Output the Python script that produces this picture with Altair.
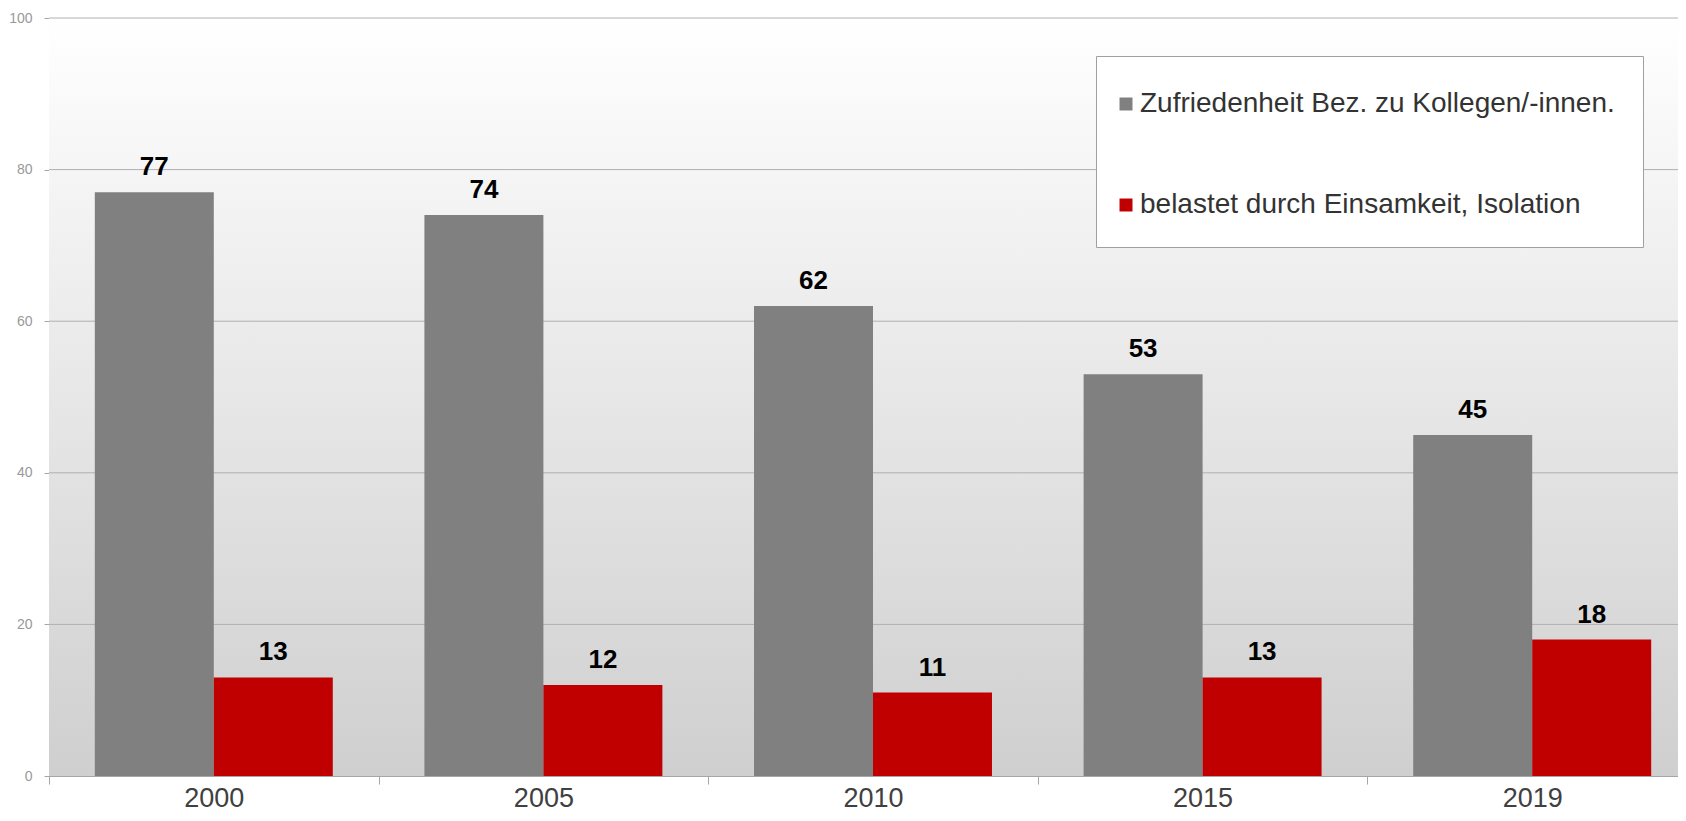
import altair as alt
import pandas as pd

years = ["2000", "2005", "2010", "2015", "2019"]
series_names = ["Zufriedenheit Bez. zu Kollegen/-innen.", "belastet durch Einsamkeit, Isolation"]
zufriedenheit = [77, 74, 62, 53, 45]
belastet = [13, 12, 11, 13, 18]
y_ticks = [0, 20, 40, 60, 80, 100]
colors = ["#808080", "#c00000"]

rows = []
for i, y in enumerate(years):
    rows.append({"year": y, "series": series_names[0], "value": zufriedenheit[i]})
    rows.append({"year": y, "series": series_names[1], "value": belastet[i]})
df = pd.DataFrame(rows)
grid_df = pd.DataFrame({"v": y_ticks[1:]})
bg_df = pd.DataFrame({"a": [0]})

W = 1629          # visible plot width
XR = 1648         # x range (plot continues past the right edge, as in the reference)
H = 758
FONT = "Liberation Sans"

yscale = alt.Scale(domain=[0, 100], nice=False)
yaxis = alt.Axis(values=y_ticks, title=None, grid=False, domain=True, domainColor="#a6a6a6",
                 tickColor="#a6a6a6", tickSize=5, labelFontSize=14, labelColor="#999999",
                 labelPadding=12, labelFont=FONT)
xaxis = alt.Axis(title=None, labelAngle=0, tickBand="extent", tickSize=8, tickColor="#a6a6a6",
                 domainColor="#a6a6a6", labelFontSize=27, labelColor="#404040", labelPadding=22,
                 labelBaseline="alphabetic", labelFont=FONT, grid=False)
xscale = alt.Scale(paddingInner=0, paddingOuter=0, range=[0, XR])

bg = alt.Chart(bg_df).mark_rect(
    fill={"gradient": "linear", "x1": 0, "x2": 0, "y1": 0, "y2": 1,
          "stops": [{"offset": 0, "color": "#ffffff"}, {"offset": 1, "color": "#cfcfcf"}]}
).encode(x=alt.value(0), x2=alt.value(XR), y=alt.value(0), y2=alt.value(H))

grid = alt.Chart(grid_df).mark_rule(color="#b0b0b0", strokeWidth=1).encode(
    y=alt.Y("v:Q", scale=yscale, axis=yaxis),
    x=alt.value(0), x2=alt.value(XR),
)

base = alt.Chart(df).encode(
    x=alt.X("year:N", sort=years, scale=xscale, axis=xaxis),
    xOffset=alt.XOffset("series:N", sort=series_names,
                        scale=alt.Scale(paddingInner=0, paddingOuter=0.385)),
    y=alt.Y("value:Q", scale=yscale, axis=yaxis),
)

bars = base.mark_bar().encode(
    color=alt.Color("series:N", sort=series_names,
                    scale=alt.Scale(domain=series_names, range=colors),
                    legend=alt.Legend(title=" ", titleFontSize=4, titlePadding=2,
                                      orient="none", legendX=1047, legendY=38,
                                      fillColor="#ffffff", strokeColor="#a0a0a0", padding=28,
                                      rowPadding=73, symbolType="square", symbolSize=169,
                                      symbolOffset={"expr": "-12"}, symbolStrokeWidth=0,
                                      labelFontSize=28, labelColor="#333333",
                                      labelFont=FONT, labelOffset=0,
                                      labelLimit=800))
)

labels = base.mark_text(dy=-17, baseline="alphabetic", fontWeight="bold", fontSize=26,
                        color="#000000", font=FONT).encode(text=alt.Text("value:Q"))

chart = alt.layer(bg, grid, bars, labels).properties(
    width=W, height=H,
    autosize=alt.AutoSizeParams(type="none"),
    padding={"left": 41, "top": 10, "right": 0, "bottom": 37},
).configure_view(stroke=None).configure(background="#ffffff")

chart.save("out.html", embed_options={"renderer": "svg", "actions": False})
